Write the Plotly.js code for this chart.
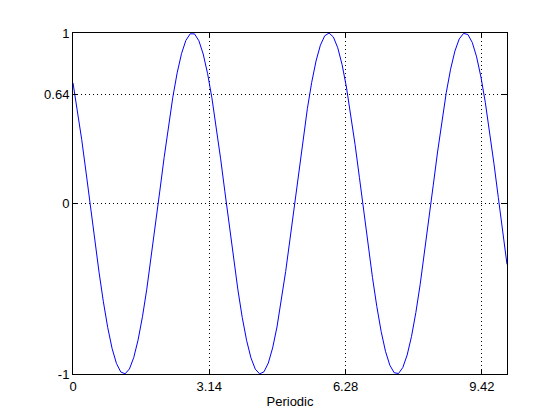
<!DOCTYPE html>
<html>
<head>
<meta charset="utf-8">
<script src="https://cdn.plot.ly/plotly-3.0.1.min.js"></script>
<style>html,body{margin:0;padding:0;background:#fff;}#chart{width:560px;height:420px;}</style>
</head>
<body>
<div id="chart"></div>
<script>
const xValues = [
  0.0,0.1,0.2,0.3,0.4,0.5,0.6,0.7,0.8,0.9,
  1.0,1.1,1.2,1.3,1.4,1.5,1.6,1.7,1.8,1.9,
  2.0,2.1,2.2,2.3,2.4,2.5,2.6,2.7,2.8,2.9,
  3.0,3.1,3.2,3.3,3.4,3.5,3.6,3.7,3.8,3.9,
  4.0,4.1,4.2,4.3,4.4,4.5,4.6,4.7,4.8,4.9,
  5.0,5.1,5.2,5.3,5.4,5.5,5.6,5.7,5.8,5.9,
  6.0,6.1,6.2,6.3,6.4,6.5,6.6,6.7,6.8,6.9,
  7.0,7.1,7.2,7.3,7.4,7.5,7.6,7.7,7.8,7.9,
  8.0,8.1,8.2,8.3,8.4,8.5,8.6,8.7,8.8,8.9,
  9.0,9.1,9.2,9.3,9.4,9.5,9.6,9.7,9.8,9.9,
  10.0
];
const yValues = [
  0.7071,0.5525,0.3760,0.1844,-0.0146,-0.2130,-0.4028,-0.5767,-0.7275,-0.8494,
  -0.9373,-0.9879,-0.9991,-0.9705,-0.9033,-0.7999,-0.6646,-0.5030,-0.3212,-0.1267,
  0.0730,0.2697,0.4556,0.6234,0.7664,0.8787,0.9561,0.9952,0.9948,0.9547,
  0.8765,0.7634,0.6200,0.4517,0.2655,0.0685,-0.1311,-0.3255,-0.5068,-0.6690,
  -0.8030,-0.9051,-0.9715,-0.9992,-0.9872,-0.9358,-0.8470,-0.7245,-0.5730,-0.3988,
  -0.2087,-0.0102,0.1887,0.3800,0.5562,0.7102,0.8359,0.9283,0.9836,0.9998,
  0.9761,0.9135,0.8144,0.6830,0.5242,0.3447,0.1513,-0.0482,-0.2457,-0.4333,
  -0.6038,-0.7501,-0.8665,-0.9484,-0.9925,-0.9970,-0.9617,-0.8882,-0.7793,-0.6391,
  -0.4737,-0.2892,-0.0933,0.1064,0.3019,0.4853,0.6494,0.7876,0.8943,0.9655,
  0.9979,0.9908,0.9442,0.8598,0.7413,0.5932,0.4215,0.2328,0.0350,-0.1642,
  -0.3569
];
const xTickVals = [0, 3.14, 6.28, 9.42];
const xTickText = ['0', '3.14', '6.28', '9.42'];
const yTickVals = [-1, 0, 0.64, 1];
const yTickText = ['-1', '0', '0.64', '1'];
const xLabel = 'Periodic';

const font = {family: 'Liberation Sans, Arial, sans-serif', size: 13, color: '#000'};
const axisCommon = {
  showline: true, linecolor: '#000', linewidth: 1, mirror: 'ticks',
  ticks: 'inside', ticklen: 5, tickwidth: 1, tickcolor: '#000',
  showgrid: true, gridcolor: '#000', gridwidth: 1, griddash: '1px,3px',
  zeroline: false, tickmode: 'array', tickfont: font, fixedrange: true
};
const layout = {
  width: 560, height: 420,
  margin: {l: 73, r: 53, t: 33, b: 46, pad: 0},
  paper_bgcolor: '#fff', plot_bgcolor: '#fff',
  showlegend: false, font: font,
  xaxis: Object.assign({}, axisCommon, {
    range: [0, 10], tickvals: xTickVals, ticktext: xTickText,
    automargin: false,
    title: {text: xLabel, font: font, standoff: 4}
  }),
  yaxis: Object.assign({}, axisCommon, {
    range: [-1, 1], tickvals: yTickVals, ticktext: yTickText,
    automargin: false
  })
};
Plotly.newPlot('chart', [{
  x: xValues, y: yValues, type: 'scatter', mode: 'lines',
  line: {color: '#0000ff', width: 1}, hoverinfo: 'none'
}], layout, {staticPlot: true, displayModeBar: false});
</script>
</body>
</html>
